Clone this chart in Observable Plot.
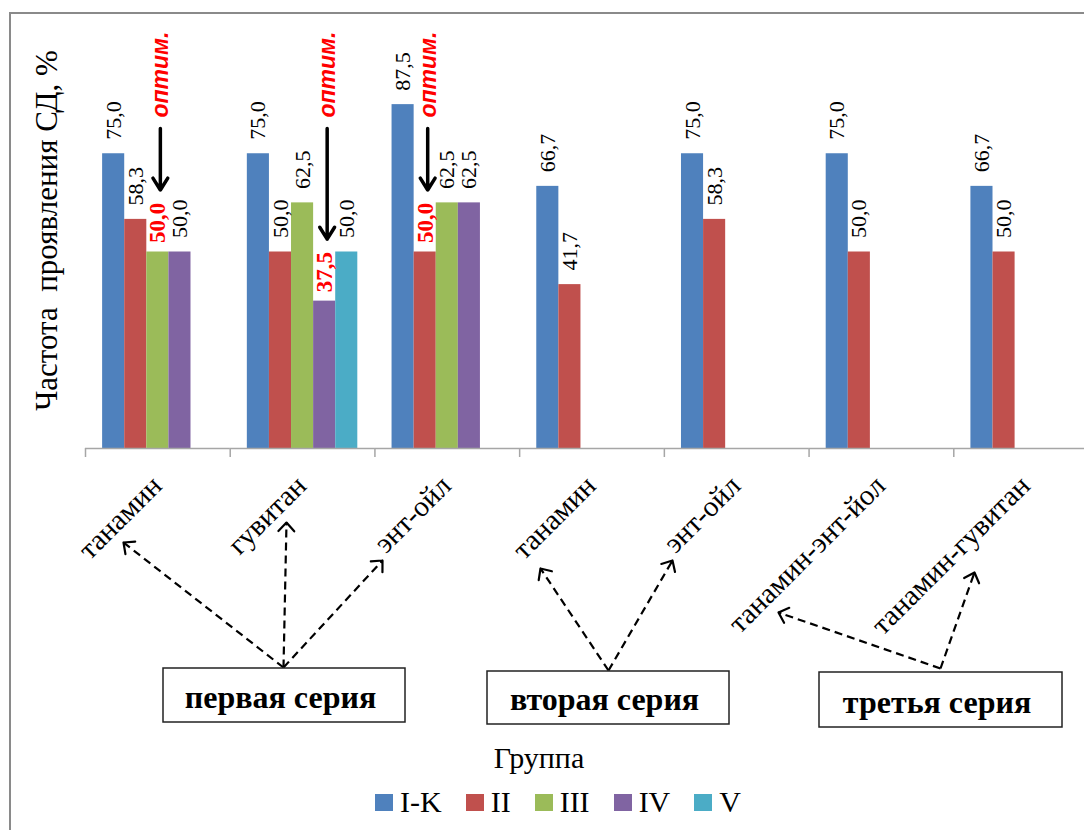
<!DOCTYPE html>
<html>
<head>
<meta charset="utf-8">
<script src="https://cdn.jsdelivr.net/npm/d3@7"></script>
<script src="https://cdn.jsdelivr.net/npm/@observablehq/plot@0.6"></script>
<style>
  html, body { margin: 0; padding: 0; background: #fff; overflow: hidden; }
  #wrap { position: relative; width: 1084px; height: 830px; overflow: hidden; background: #fff; }
  #frame { position: absolute; left: 9px; top: 12px; width: 1100px; height: 840px;
           border-left: 2.5px solid #8a8a8a; border-top: 2.5px solid #8a8a8a; }
  #chart { position: absolute; left: 0; top: 0; width: 1110px; }
  #overlay { position: absolute; left: 0; top: 0; width: 1084px; pointer-events: none; }
  #chart svg, #overlay svg { max-width: none !important; }
  .serif { font-family: "Liberation Serif", "Times New Roman", serif; }
  #legend-title { position: absolute; left: 0; width: 1078px; top: 743px; text-align: center;
                  font-size: 30px; line-height: 30px; color: #000; }
  #legend-items { position: absolute; left: 375px; top: 787px; display: flex; align-items: center;
                  font-size: 30px; line-height: 30px; color: #000; }
  .item { display: flex; align-items: center; margin-right: 24px; }
  .sw { width: 18px; height: 17px; margin-right: 7px; }
</style>
</head>
<body>
<div id="wrap">
  <div id="frame"></div>
  <div id="chart"></div>
  <div id="overlay"></div>
  <div id="legend-title" class="serif"></div>
  <div id="legend-items" class="serif"></div>
</div>
<script>
// ---------------- data ----------------
const categories = ["танамин", "гувитан", "энт-ойл", "танамин", "энт-ойл", "танамин-энт-йол", "танамин-гувитан"];
const seriesNames = ["первая серия", "вторая серия", "третья серия"];
const groups = ["I-K", "II", "III", "IV", "V"];
const valuesIK  = [75.0, 75.0, 87.5, 66.7, 75.0, 75.0, 66.7];
const valuesII  = [58.3, 50.0, 50.0, 41.7, 58.3, 50.0, 50.0];
const valuesIII = [50.0, 62.5, 62.5, null, null, null, null];
const valuesIV  = [50.0, 37.5, 62.5, null, null, null, null];
const valuesV   = [null, 50.0, null, null, null, null, null];
const optimalGroup = ["III", "IV", "II", null, null, null, null];
const optimalLabel = "оптим.";
const yTitle = "Частота  проявления СД, %";
const legendTitle = "Группа";
const colors = ["#4F81BD", "#C0504D", "#9BBB59", "#8064A2", "#4BACC6"];

// ---------------- tables ----------------
const seriesValues = [valuesIK, valuesII, valuesIII, valuesIV, valuesV];
const rows = [];
categories.forEach((c, i) => {
  groups.forEach((g, j) => {
    const v = seriesValues[j][i];
    if (v != null) rows.push({cat: i, group: g, value: v, optimal: optimalGroup[i] === g});
  });
});
const catRows = categories.map((label, i) => ({cat: i, label}));
const optRows = rows.filter(d => d.optimal);
const fmt = v => d3.format(".1f")(v).replace(".", ",");

// ---------------- layout ----------------
const W = 1110, H = 740, ML = 85, MR = 12, MT = 55, Y0 = 448;
const step = (W - ML - MR) / categories.length;
const serif = "Liberation Serif";
const sans = "Liberation Sans";

const chart = Plot.plot({
  width: W, height: H,
  marginLeft: ML, marginRight: MR, marginTop: MT, marginBottom: H - Y0,
  style: {fontFamily: serif, background: "none", overflow: "visible", color: "#000", maxWidth: "none"},
  fx: {domain: d3.range(categories.length), padding: 0, round: false, axis: null, label: null},
  x: {domain: groups, paddingInner: 0, paddingOuter: 0.775, round: false, axis: null},
  y: {domain: [0, 100], axis: null},
  color: {domain: groups, range: colors},
  marks: [
    Plot.barY(rows, {fx: "cat", x: "group", y: "value", fill: "group"}),
    Plot.ruleY([0], {stroke: "#a6a6a6", strokeWidth: 1.5}),
    Plot.axisFx({anchor: "bottom", tickSize: 9, tickFormat: () => "", label: null,
                 dx: -step / 2, stroke: "#a6a6a6", strokeWidth: 1.5}),
    Plot.text(rows.filter(d => !d.optimal), {
      fx: "cat", x: "group", y: "value", text: d => fmt(d.value),
      rotate: -90, textAnchor: "start", lineAnchor: "middle", dy: -14,
      fontSize: 22, fill: "#000", fontFamily: serif
    }),
    Plot.text(optRows, {
      fx: "cat", x: "group", y: "value", text: d => fmt(d.value),
      rotate: -90, textAnchor: "start", lineAnchor: "middle", dy: -9,
      fontSize: 23, fontWeight: "bold", fill: "#ff0000", fontFamily: serif
    }),
    Plot.arrow(optRows, {
      fx: "cat", x1: "group", x2: "group", y1: 81.45, y2: "value",
      insetEnd: 62, dx: 2.5, stroke: "#000", strokeWidth: 3.5,
      headLength: 6, headAngle: 64
    }),
    Plot.text(optRows, {
      fx: "cat", x: "group", y: 84.2, text: () => optimalLabel,
      rotate: -90, textAnchor: "start", lineAnchor: "middle", dx: 3,
      fontSize: 23, fontWeight: "bold", fontStyle: "italic", fill: "#ff0000",
      fontFamily: sans
    }),
    Plot.text(catRows, {
      fx: "cat", text: "label", frameAnchor: "bottom",
      rotate: -45, textAnchor: "end", lineAnchor: "bottom",
      dx: 5.5, dy: 39, fontSize: 29, fill: "#000", fontFamily: serif
    })
  ]
});
document.getElementById("chart").append(chart);

// ---------------- annotation layer (pixel layout) ----------------
const boxLayout = [
  {label: seriesNames[0], x1: 163, x2: 405, y1: 668, y2: 722, base: 707.5, apexX: 283, apexY: 667},
  {label: seriesNames[1], x1: 487, x2: 729, y1: 671, y2: 724, base: 709.5, apexX: 608, apexY: 670},
  {label: seriesNames[2], x1: 819, x2: 1062, y1: 672, y2: 727, base: 712, apexX: 940, apexY: 668}
];
const pointerLayout = [
  {box: 0, tx: 123, ty: 542},
  {box: 0, tx: 286, ty: 522},
  {box: 0, tx: 382, ty: 560},
  {box: 1, tx: 540, ty: 568},
  {box: 1, tx: 672, ty: 560},
  {box: 2, tx: 778, ty: 612},
  {box: 2, tx: 974, ty: 572}
].map(p => ({...p, ax: boxLayout[p.box].apexX, ay: boxLayout[p.box].apexY}));

const overlay = Plot.plot({
  width: 1084, height: 830, margin: 0,
  x: {type: "identity", axis: null},
  y: {type: "identity", axis: null},
  style: {fontFamily: serif, background: "none", color: "#000", maxWidth: "none"},
  marks: [
    Plot.text([yTitle], {x: 56.5, y: 230, text: d => d, rotate: -90,
      textAnchor: "middle", lineAnchor: "bottom", fontSize: 31, fill: "#000", fontFamily: serif}),
    Plot.link(pointerLayout, {x1: "ax", y1: "ay", x2: "tx", y2: "ty",
      stroke: "#000", strokeWidth: 2.2, strokeDasharray: "8,5"}),
    ...pointerLayout.map(p => Plot.arrow([p], {
      x1: "ax", y1: "ay", x2: "tx", y2: "ty", stroke: "#000", strokeWidth: 2.2,
      headAngle: 85, headLength: 8, insetStart: Math.hypot(p.tx - p.ax, p.ty - p.ay) - 2
    })),
    Plot.rect(boxLayout, {x1: "x1", x2: "x2", y1: "y1", y2: "y2",
      fill: "#fff", stroke: "#222", strokeWidth: 1.5}),
    Plot.text(boxLayout, {x: d => (d.x1 + d.x2) / 2 - 4, y: "base", text: "label",
      lineAnchor: "bottom", fontSize: 32, fontWeight: "bold", fill: "#000", fontFamily: serif})
  ]
});
document.getElementById("overlay").append(overlay);

// ---------------- legend ----------------
document.getElementById("legend-title").textContent = legendTitle;
const li = document.getElementById("legend-items");
groups.forEach((g, i) => {
  const item = document.createElement("div");
  item.className = "item";
  const sw = document.createElement("div");
  sw.className = "sw";
  sw.style.background = colors[i];
  const t = document.createElement("span");
  t.textContent = g;
  item.append(sw, t);
  li.append(item);
});
</script>
</body>
</html>
